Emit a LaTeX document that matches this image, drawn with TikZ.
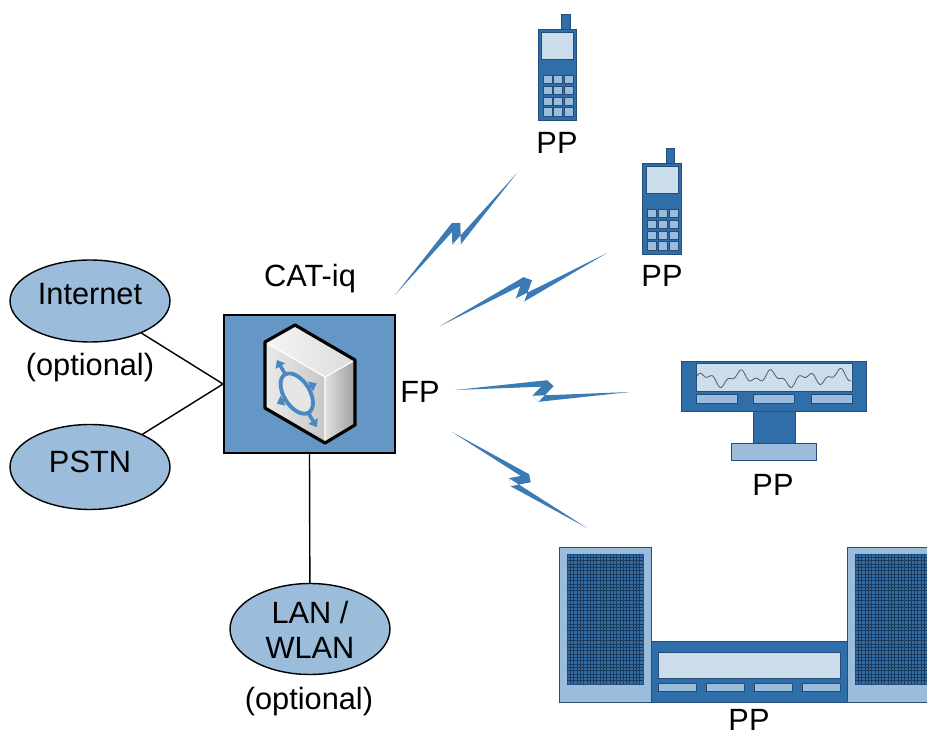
\documentclass[tikz,border=0pt]{standalone}
\usepackage{fontspec}
\setmainfont{Liberation Sans}
\usepackage{xcolor}
\usetikzlibrary{calc,shapes.geometric,arrows.meta}
\definecolor{devblue}{HTML}{2F6EA8}
\definecolor{lightblue}{HTML}{9BBCDA}
\definecolor{paleblue}{HTML}{CCDDEB}
\definecolor{boxblue}{HTML}{6496C6}
\definecolor{boltblue}{HTML}{3A7AB5}
\definecolor{edgeblue}{HTML}{244E78}
\definecolor{grille}{HTML}{1C3A5A}
\definecolor{logoblue}{HTML}{4A88C2}
\tikzset{
  linkEdge/.style={draw=black, line width=0.8pt},
  cloudEll/.style={ellipse, draw=black, line width=0.8pt, fill=lightblue, minimum width=3.2cm, inner sep=0pt},
  fpBox/.style={rectangle, draw=black, line width=1.1pt, fill=boxblue, minimum width=3.42cm, minimum height=2.76cm, inner sep=0pt},
  txtLbl/.style={font=\fontsize{17.5}{20}\selectfont, inner sep=0pt, anchor=base},
  devBody/.style={fill=devblue, draw=edgeblue, line width=0.4pt},
  devScreen/.style={fill=paleblue, draw=edgeblue, line width=0.4pt},
  devKey/.style={fill=lightblue, draw=edgeblue, line width=0.4pt},
  boltFill/.style={fill=boltblue},
  grilleLine/.style={draw=grille, line width=0.28pt},
  waveLine/.style={draw=black!65, line width=0.45pt},
  cubeEdge/.style={draw=black, line width=1.8pt, line join=round},
  logoArrow/.style={draw=logoblue, line width=2pt, -{Triangle[width=6pt,length=4pt]}},
}
% point on a bolt, given along/across the line (bs)->end
\newcommand{\bp}[2]{($(bs)+({#1*(\x1)-(#2)*(\y1)},{#1*(\y1)+(#2)*(\x1)})$)}
\newcommand{\bolt}[2]{%
  \coordinate (bs) at (#1);
  \fill[boltFill] let \p1=($(#2)-(#1)$) in
    (#1) -- \bp{0.527}{0.062} -- \bp{0.563}{0.028} -- cycle
    \bp{0.527}{0.062} -- \bp{0.563}{0.028} -- \bp{0.478}{-0.062} -- \bp{0.442}{-0.028} -- cycle
    \bp{0.442}{-0.028} -- \bp{0.478}{-0.062} -- (#2) -- cycle;
}
\newcommand{\handset}[1]{%
  \begin{scope}[shift={#1}]
    \filldraw[devBody] (23.5,-15.3) rectangle (31.7,0);
    \filldraw[devBody] (0,0) rectangle (38.4,90.7);
    \filldraw[devScreen] (3.3,3) rectangle (35.4,30);
    \foreach \i in {0,1,2}
      \foreach \j in {0,...,3}
        \filldraw[devKey] ({4.6+10.8*\i},{46+10.8*\j}) rectangle +(9,8.3);
  \end{scope}}

\begin{document}
\begin{tikzpicture}[x=0.02cm, y=-0.02cm]
  \useasboundingbox (0,0) rectangle (927,736);

  % wired side
  \node[cloudEll, minimum height=1.64cm] (inet) at (90,301) {};
  \node[cloudEll, minimum height=1.70cm] (pstn) at (90,467) {};
  \node[cloudEll, minimum height=1.82cm] (lan)  at (310,629) {};
  \node[fpBox] (fp) at (309.5,384) {};

  \draw[linkEdge] (inet) -- (fp.west);
  \draw[linkEdge] (pstn) -- (fp.west);
  \draw[linkEdge] (fp.south) -- (lan);

  \node[txtLbl] (inetTxt) at (90,305) {Internet};
  \node[txtLbl] (inetOpt) at (90,376) {(optional)};
  \node[txtLbl] (pstnTxt) at (90,473) {PSTN};
  \node[txtLbl, align=center, anchor=center] (lanTxt) at (310,630) {LAN /\\WLAN};
  \node[txtLbl] (lanOpt) at (309,709) {(optional)};
  \node[txtLbl] (catTxt) at (310,287) {CAT-iq};
  \node[txtLbl] (fpTxt)  at (420,403) {FP};

  % base station cube
  \shade[left color=black!8, right color=black!22]
    (265,342) -- (325,377) -- (325,443) -- (265,408) -- cycle;
  \shade[left color=black!4, right color=black!14]
    (265,342) -- (295,325) -- (355,360) -- (325,377) -- cycle;
  \shade[left color=black!12, right color=black!38]
    (325,377) -- (355,360) -- (355,425) -- (325,443) -- cycle;
  \draw[white, line width=0.7pt] (265,342) -- (325,377) -- (355,360) (325,377) -- (325,443);
  \draw[cubeEdge] (265,342) -- (295,325) -- (355,360) -- (355,425) -- (325,443) -- (265,408) -- cycle;
  \begin{scope}[shift={(265,342)}, x={(1.2cm,-0.7cm)}, y={(0cm,-1.32cm)}]
    \fill[black!10] (0.53,0.5) circle (0.27);
    \draw[logoblue, line width=2.2pt] (0.53,0.5) circle (0.27);
    \foreach \a in {45,135,225,315}
      \draw[logoArrow] ({0.53+0.27*cos(\a)},{0.5+0.27*sin(\a)}) -- ({0.53+0.47*cos(\a)},{0.5+0.47*sin(\a)});
  \end{scope}

  % radio links
  \coordinate (b1s) at (395,295); \coordinate (b1e) at (517,173);
  \coordinate (b2s) at (440,326); \coordinate (b2e) at (607,253);
  \coordinate (b3s) at (455,390); \coordinate (b3e) at (630,392);
  \coordinate (b4s) at (452,432); \coordinate (b4e) at (587,528);
  \bolt{b1s}{b1e}
  \bolt{b2s}{b2e}
  \bolt{b3s}{b3e}
  \bolt{b4s}{b4e}

  % handsets
  \handset{(538.3,29.3)}
  \handset{(642.7,163.3)}
  \node[txtLbl] (pp1) at (557,154) {PP};
  \node[txtLbl] (pp2) at (662,287) {PP};

  % display terminal
  \filldraw[devBody] (681,361) rectangle (866,411);
  \filldraw[devScreen] (696,363) rectangle (852,391);
  \draw[waveLine] plot[smooth, samples=90, domain=0:1]
    ({697+154*\x}, {378 - 5*sin(1650*\x) - 3*sin(3900*\x+40) + 2*sin(700*\x)});
  \foreach \bx in {696,753,811}
    \filldraw[devKey] (\bx,394) rectangle +(41,9);
  \filldraw[devBody] (753,411) rectangle (795,443);
  \filldraw[devKey] (731,443) rectangle (816,460);
  \node[txtLbl] (pp3) at (773,496) {PP};

  % stereo set
  \foreach \sx in {559,847} {
    \filldraw[devKey] (\sx,547) rectangle +(92,155);
    \filldraw[devBody] (\sx+8,554) rectangle +(76,130);
    \foreach \g in {1,...,22}
      \draw[grilleLine] ({\sx+8+3.3*\g},554) -- +(0,130);
    \foreach \g in {1,...,38}
      \draw[grilleLine] (\sx+8,{554+3.33*\g}) -- +(76,0);
  }
  \filldraw[devBody] (651,641) rectangle (847,702);
  \filldraw[devScreen] (658,652) rectangle (840,678);
  \foreach \bx in {658,706,754,802}
    \filldraw[devKey] (\bx,683) rectangle +(38,8);
  \node[txtLbl] (pp4) at (749,730) {PP};
\end{tikzpicture}
\end{document}
